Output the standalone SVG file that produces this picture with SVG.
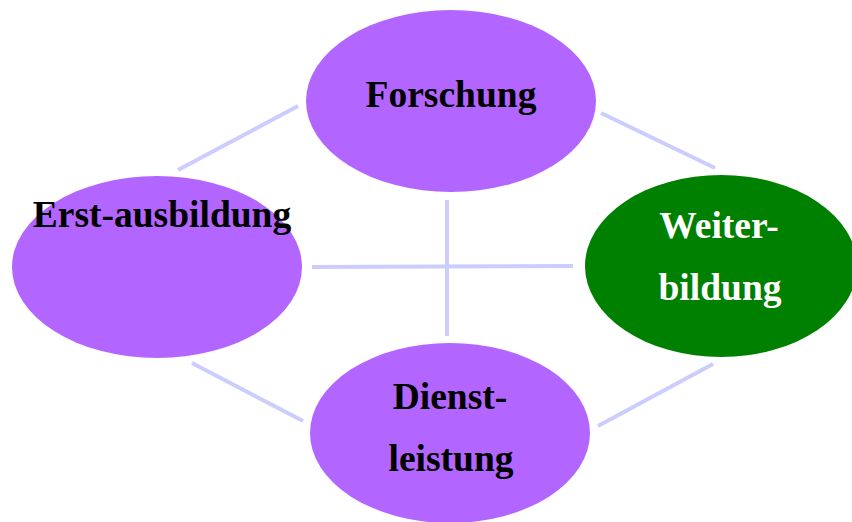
<svg xmlns="http://www.w3.org/2000/svg" width="852" height="522" viewBox="0 0 852 522">
<style>
.node{fill:#b266ff}
.green{fill:#008000}
.lbl{font-family:"Liberation Serif","Times New Roman",serif;font-weight:bold;font-size:37.5px;text-anchor:middle;fill:#000}
.white{fill:#fff}
.conn{stroke:#ccccff;stroke-width:4;fill:none}
</style>
<rect width="852" height="522" fill="#fff"/>
<g id="connectors">
<line class="conn" x1="178" y1="170" x2="298" y2="106"/>
<line class="conn" x1="601" y1="113" x2="715" y2="168"/>
<line class="conn" x1="312" y1="267" x2="573" y2="266"/>
<line class="conn" x1="447" y1="200" x2="447" y2="336"/>
<line class="conn" x1="192" y1="363" x2="303" y2="421"/>
<line class="conn" x1="598" y1="426" x2="713" y2="364"/>
</g>
<g id="forschung">
<ellipse class="node" cx="451" cy="101" rx="145" ry="91"/>
<text class="lbl" x="451" y="107">Forschung</text>
</g>
<g id="erstausbildung">
<ellipse class="node" cx="157" cy="267" rx="145" ry="91"/>
<text class="lbl" x="162" y="227">Erst-ausbildung</text>
</g>
<g id="weiterbildung">
<ellipse class="green" cx="721" cy="266" rx="136" ry="91"/>
<text class="lbl white" x="719" y="238">Weiter-</text>
<text class="lbl white" x="720" y="300">bildung</text>
</g>
<g id="dienstleistung">
<ellipse class="node" cx="450" cy="433" rx="140" ry="90"/>
<text class="lbl" x="450" y="409">Dienst-</text>
<text class="lbl" x="451" y="471">leistung</text>
</g>
</svg>
